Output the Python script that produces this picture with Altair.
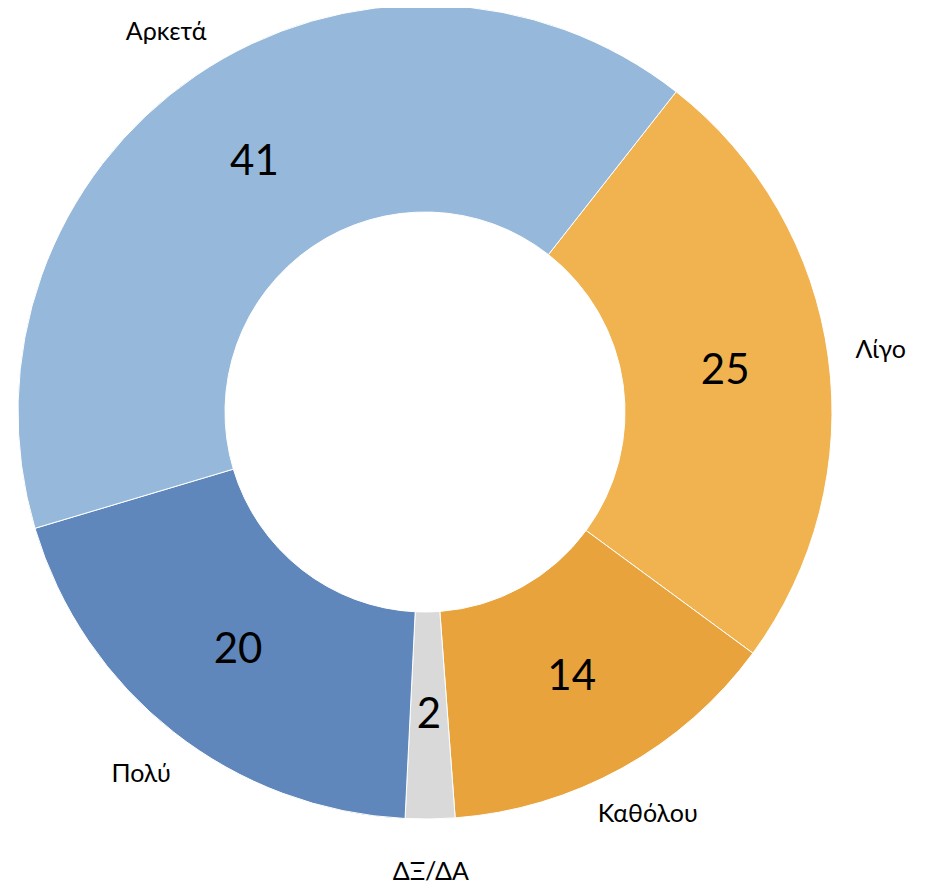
import altair as alt
import pandas as pd

categories = ["Λίγο", "Καθόλου", "ΔΞ/ΔΑ", "Πολύ", "Αρκετά"]
values = [25, 14, 2, 20, 41]
colors = ["#F0B350", "#E8A33D", "#D9D9D9", "#5F87BB", "#95B8DB"]

df = pd.DataFrame({"cat": categories, "val": values, "idx": list(range(len(values)))})

start = 0.665
theta_scale = alt.Scale(range=[start, start + 6.283185307])
cx, cy = 417, 404

base = alt.Chart(df).encode(
    theta=alt.Theta("val:Q", stack=True, scale=theta_scale),
    order=alt.Order("idx:Q"),
    x=alt.value(cx),
    y=alt.value(cy),
)

arcs = base.mark_arc(innerRadius=200, outerRadius=407, stroke="white", strokeWidth=1).encode(
    color=alt.Color("cat:N", scale=alt.Scale(domain=categories, range=colors), legend=None)
)

nums = base.mark_text(radius=303, font="Lato", fontSize=42, color="black").encode(
    text=alt.Text("val:Q")
)

labels = base.mark_text(radius=460, font="Lato", fontSize=25, color="black").encode(
    text=alt.Text("cat:N")
)

chart = (arcs + nums + labels).properties(
    width=919, height=878, autosize=alt.AutoSizeParams(type="none"), padding=0
).configure_view(stroke=None)

chart.save("out.html", embed_options={"renderer": "svg", "actions": False})
